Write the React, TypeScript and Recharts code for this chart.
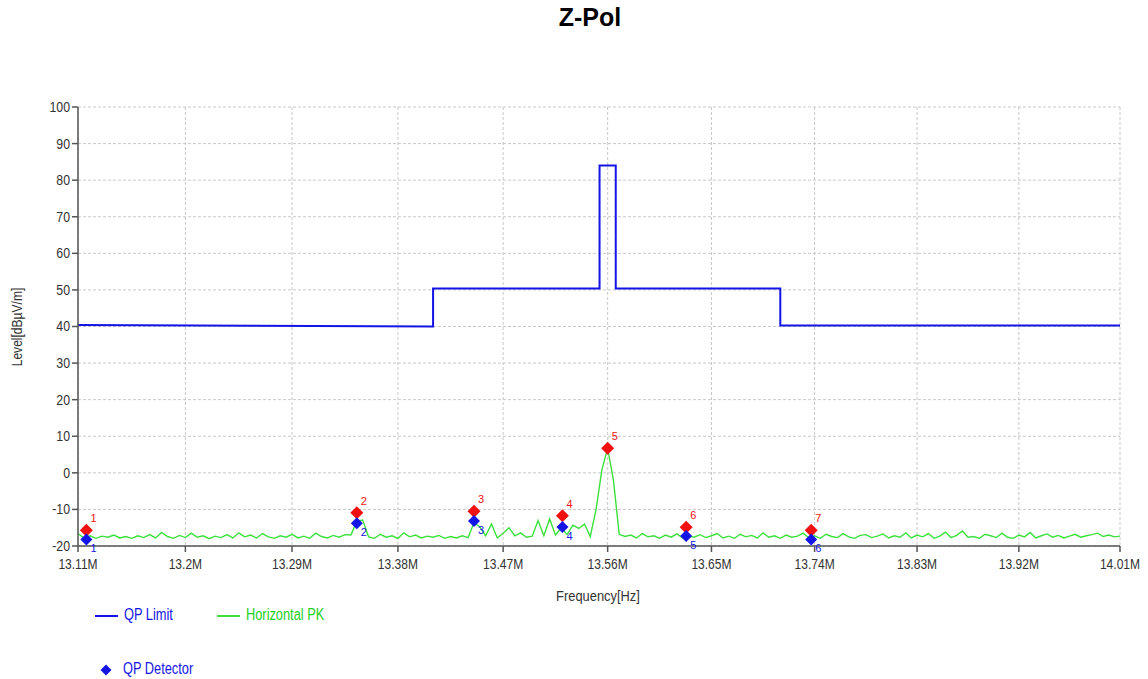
import { ComposedChart, Line, Scatter, XAxis, YAxis, CartesianGrid } from "recharts";

const FREQ_TICKS = [13.11, 13.2, 13.29, 13.38, 13.47, 13.56, 13.65, 13.74, 13.83, 13.92, 14.01];
const LEVEL_TICKS = [-20, -10, 0, 10, 20, 30, 40, 50, 60, 70, 80, 90, 100];

// QP limit (MHz, dBµV/m)
const LIMIT_FREQ = [13.11, 13.41, 13.41, 13.553, 13.553, 13.567, 13.567, 13.71, 13.71, 14.01];
const LIMIT_LEVEL = [40.4, 40.0, 50.4, 50.4, 84, 84, 50.4, 50.4, 40.3, 40.3];

// Horizontal PK trace, sampled every 5 kHz from 13.110 MHz
const PK_START = 13.11;
const PK_STEP = 0.005;
const PK_LEVEL = [
  -16.6, -17.8, -17.2, -17.9, -17.3, -17.6, -17.0, -17.8, -17.4, -17.9,
  -17.2, -17.7, -16.9, -17.8, -16.3, -17.4, -17.9, -17.1, -17.7, -16.5,
  -17.6, -17.2, -18.0, -17.3, -17.7, -16.9, -17.8, -16.4, -17.5, -17.0,
  -17.8, -16.6, -17.5, -17.9, -17.2, -17.6, -16.8, -17.8, -17.3, -17.9,
  -16.5, -17.4, -17.8, -17.1, -17.6, -16.9, -17.0, -13.2, -12.9, -17.5,
  -17.9, -16.8, -17.6, -17.2, -17.9, -16.4, -17.5, -17.0, -17.8, -17.3,
  -17.6, -17.1, -17.9, -17.4, -17.8, -17.2, -17.7, -13.6, -14.8, -17.2,
  -14.0, -17.8, -16.5, -15.0, -17.2, -16.4, -17.6, -17.3, -13.0, -17.2,
  -12.6, -17.0, -15.0, -16.9, -14.3, -15.2, -14.0, -17.4, -10.0, 0.8,
  6.7, -2.0, -16.8, -17.4, -17.0, -17.8, -16.6, -17.5, -17.2, -17.9,
  -17.0, -17.6, -16.7, -17.8, -17.3, -17.6, -16.9, -17.7, -17.2, -16.6,
  -17.8, -17.3, -17.9, -16.8, -17.5, -17.1, -17.8, -16.4, -17.6, -17.2,
  -17.9, -17.0, -17.6, -17.3, -16.5, -17.8, -17.2, -17.9, -16.8, -17.4,
  -17.7, -16.6, -17.5, -17.9, -17.1, -16.9, -17.7, -17.3, -16.7, -17.8,
  -17.2, -17.6, -16.4, -17.8, -17.0, -17.5, -16.6, -17.9, -17.3, -16.2,
  -17.7, -17.1, -15.9, -17.6, -17.4, -17.9, -16.8, -17.2, -17.7, -16.5,
  -17.6, -17.9, -17.0, -17.5, -16.3, -17.8, -17.2, -16.7, -17.6, -17.1,
  -17.8, -17.3, -16.8, -17.6, -17.2, -16.9, -16.5, -17.4, -17.0, -17.5,
  -17.3,
];

// peak markers (red) and QP detector markers (blue)
const PEAK_FREQ = [13.117, 13.345, 13.445, 13.521, 13.56, 13.628, 13.737];
const PEAK_LEVEL = [-15.7, -10.9, -10.5, -11.7, 6.7, -14.9, -15.7];
const QP_FREQ = [13.117, 13.345, 13.445, 13.521, 13.628, 13.737];
const QP_LEVEL = [-18.2, -13.8, -13.2, -14.8, -17.3, -18.2];

const BLUE = "#1414e6";
const GREEN = "#3be03b";
const RED = "#f01010";
const FONT = "'Liberation Sans', Arial, sans-serif";

const limitData = LIMIT_FREQ.map((f, i) => ({ f, v: LIMIT_LEVEL[i] }));
const pkData = PK_LEVEL.map((v, i) => ({ f: Number((PK_START + i * PK_STEP).toFixed(3)), v }));
const peakData = PEAK_FREQ.map((f, i) => ({ f, v: PEAK_LEVEL[i], n: i + 1 }));
const qpData = QP_FREQ.map((f, i) => ({ f, v: QP_LEVEL[i], n: i + 1 }));

function diamond(fill: string, r: number, dx: number, dy: number) {
  // eslint-disable-next-line @typescript-eslint/no-explicit-any
  return (props: any) => {
    const { cx, cy, payload } = props;
    return (
      <g>
        <polygon
          points={`${cx},${cy - r} ${cx + r},${cy} ${cx},${cy + r} ${cx - r},${cy}`}
          fill={fill}
        />
        <text x={cx + dx} y={cy + dy} fill={fill} fontSize={11} fontFamily={FONT}>
          {payload.n}
        </text>
      </g>
    );
  };
}

// eslint-disable-next-line @typescript-eslint/no-explicit-any
const XTick = (props: any) => (
  <text
    transform={`translate(${props.x},${props.y}) scale(0.86,1)`}
    textAnchor="middle"
    dy="0.71em"
    fontSize={14}
    fill="#333"
    fontFamily={FONT}
  >
    {`${props.payload.value}M`}
  </text>
);

// eslint-disable-next-line @typescript-eslint/no-explicit-any
const YTick = (props: any) => (
  <text
    transform={`translate(${props.x},${props.y}) scale(0.88,1)`}
    textAnchor="end"
    dy="0.355em"
    fontSize={14}
    fill="#333"
    fontFamily={FONT}
  >
    {props.payload.value}
  </text>
);

const narrow = (sx: number) => ({
  display: "inline-block",
  transform: `scaleX(${sx})`,
  transformOrigin: "left center",
  whiteSpace: "nowrap" as const,
});

export default function App() {
  return (
    <div
      style={{
        position: "absolute",
        left: 0,
        top: 0,
        width: 1148,
        height: 679,
        background: "#fff",
        fontFamily: FONT,
      }}
    >
      <div
        style={{
          position: "absolute",
          top: 3,
          left: 0,
          width: 1180,
          textAlign: "center",
          fontSize: 25,
          fontWeight: "bold",
          color: "#000",
        }}
      >
        Z-Pol
      </div>

      <ComposedChart
        width={1148}
        height={679}
        margin={{ top: 107, right: 28, bottom: 103, left: 0 }}
      >
        <CartesianGrid strokeDasharray="3 2" stroke="#c8c8c8" />
        <XAxis
          dataKey="f"
          type="number"
          scale="log"
          domain={[13.11, 14.01]}
          ticks={FREQ_TICKS}
          allowDataOverflow
          height={30}
          tick={<XTick />}
          tickMargin={7}
          tickSize={6}
          stroke="#555"
          strokeWidth={1.5}
        />
        <YAxis
          type="number"
          domain={[-20, 100]}
          ticks={LEVEL_TICKS}
          width={78}
          tick={<YTick />}
          tickSize={6}
          tickMargin={2}
          stroke="#555"
          strokeWidth={1.5}
        />
        <Line
          data={limitData}
          dataKey="v"
          type="linear"
          stroke={BLUE}
          strokeWidth={2}
          dot={false}
          isAnimationActive={false}
        />
        <Line
          data={pkData}
          dataKey="v"
          type="linear"
          stroke={GREEN}
          strokeWidth={1.4}
          dot={false}
          isAnimationActive={false}
        />
        <Scatter
          data={peakData}
          dataKey="v"
          shape={diamond(RED, 6.5, 4, -8)}
          isAnimationActive={false}
        />
        <Scatter
          data={qpData}
          dataKey="v"
          shape={diamond(BLUE, 6, 4, 13)}
          isAnimationActive={false}
        />
      </ComposedChart>

      <div
        style={{
          position: "absolute",
          left: 17,
          top: 327,
          transform: "translate(-50%, -50%) rotate(-90deg) scaleX(0.86)",
          fontSize: 14,
          color: "#333",
          whiteSpace: "nowrap",
        }}
      >
        Level[dBµV/m]
      </div>
      <div
        style={{
          position: "absolute",
          left: 598,
          top: 596,
          transform: "translate(-50%, -50%) scaleX(0.92)",
          fontSize: 14,
          color: "#333",
          whiteSpace: "nowrap",
        }}
      >
        Frequency[Hz]
      </div>

      {/* legend */}
      <span style={{ position: "absolute", left: 95, top: 615, width: 23, height: 2, background: BLUE }} />
      <span style={{ position: "absolute", left: 124, top: 606, fontSize: 16, color: BLUE, ...narrow(0.8) }}>
        QP Limit
      </span>
      <span style={{ position: "absolute", left: 217, top: 615, width: 23, height: 2, background: GREEN }} />
      <span style={{ position: "absolute", left: 246, top: 606, fontSize: 16, color: "#22d022", ...narrow(0.8) }}>
        Horizontal PK
      </span>
      <svg style={{ position: "absolute", left: 99, top: 663 }} width={14} height={14}>
        <polygon points="7,1.5 12.5,7 7,12.5 1.5,7" fill={BLUE} />
      </svg>
      <span style={{ position: "absolute", left: 123, top: 660, fontSize: 16, color: BLUE, ...narrow(0.8) }}>
        QP Detector
      </span>
    </div>
  );
}
